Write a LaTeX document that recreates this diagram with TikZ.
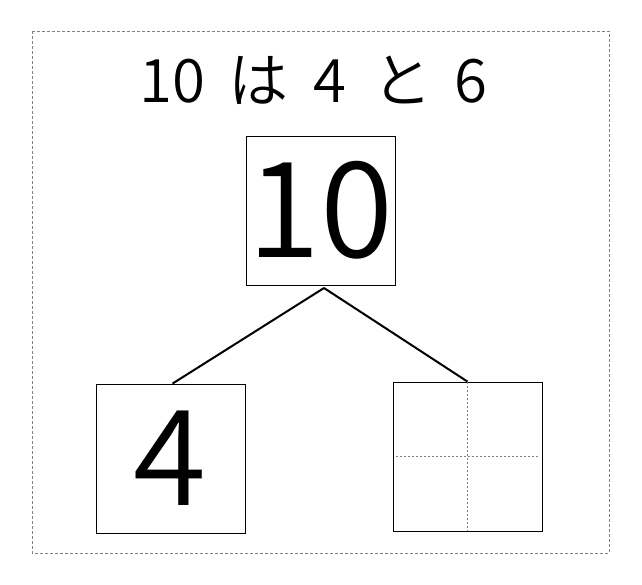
\documentclass[tikz,border=0pt]{standalone}
\usepackage{fontspec}
\newfontfamily\jp{Noto Sans CJK JP DemiLight}
\begin{document}
\begin{tikzpicture}[x=1pt,y=-1pt,
  numbox/.style={draw,line width=0.8pt,minimum width=149pt,minimum height=149pt,inner sep=0pt,font=\jp\fontsize{133}{133}\selectfont},
  link/.style={line width=2pt},
  guide/.style={draw=gray,line width=0.6pt,dash pattern=on 2pt off 2pt}]
\useasboundingbox (0,0) rectangle (642,584);
\draw[gray,line width=0.7pt,dash pattern=on 3pt off 2pt] (32,31) rectangle (609,553);
\node[font=\jp\fontsize{60}{60}\selectfont] (title) at (313.25,80) {10\hspace{23.5pt}は\hspace{24.5pt}4\hspace{27pt}と\hspace{21.5pt}6};
\node[numbox] (top) at (320.5,210.5) {10};
\node[numbox] (left) at (170.5,458.5) {4};
\node[numbox] (right) at (467.5,456.5) {};
\draw[guide] (right.north) -- (right.south);
\draw[guide] ([xshift=3pt]right.west) -- ([xshift=-3pt]right.east);
\coordinate (apex) at (324,288);
\draw[link] (apex) -- ([xshift=2pt]left.north);
\draw[link] (apex) -- (right.north);
\end{tikzpicture}
\end{document}
